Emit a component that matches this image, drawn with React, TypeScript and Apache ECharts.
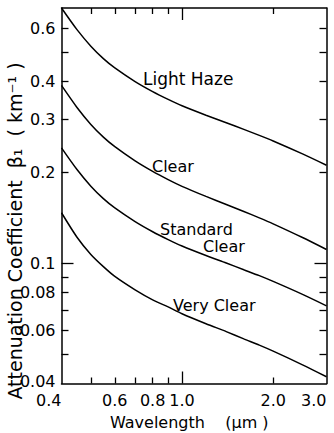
import React, { useEffect, useRef } from "react";
import * as echarts from "echarts";

const wavelengths = [0.4, 0.45, 0.5, 0.55, 0.6, 0.7, 0.8, 0.9, 1.0, 1.2, 1.4, 1.6, 1.8, 2.0, 2.5, 3.0];
const lightHaze = [0.7, 0.5935, 0.5232, 0.4759, 0.4434, 0.3996, 0.3702, 0.3488, 0.3322, 0.3091, 0.2919, 0.2775, 0.2652, 0.2541, 0.2302, 0.2111];
const clear = [0.388, 0.328, 0.2883, 0.2616, 0.2432, 0.2183, 0.2015, 0.1893, 0.1798, 0.1665, 0.1566, 0.1484, 0.1414, 0.1351, 0.1217, 0.1111];
const standardClear = [0.241, 0.2043, 0.18, 0.1637, 0.1525, 0.1374, 0.1272, 0.1198, 0.1141, 0.1061, 0.1002, 0.0952, 0.091, 0.0871, 0.0789, 0.0723];
const veryClear = [0.147, 0.122, 0.107, 0.0975, 0.0905, 0.0817, 0.0757, 0.0717, 0.0681, 0.0631, 0.0594, 0.0562, 0.0536, 0.0512, 0.0461, 0.0421];

const xRange = [0.4, 3.0];
const yRange = [0.04, 0.7];
const xLabelValues = [0.4, 0.6, 0.8, 1.0, 2.0, 3.0];
const xLabelTexts = ["0.4", "0.6", "0.8", "1.0", "2.0", "3.0"];
const xMinorTicks = [0.5, 0.6, 0.7, 0.8, 0.9, 2.0];
const xMajorTicks = [1.0];
const yLabelValues = [0.04, 0.06, 0.08, 0.1, 0.2, 0.3, 0.4, 0.6];
const yLabelTexts = ["0.04", "0.06", "0.08", "0.1", "0.2", "0.3", "0.4", "0.6"];
const yMinorTicks = [0.05, 0.06, 0.07, 0.08, 0.09, 0.2, 0.3, 0.4, 0.5, 0.6];
const yMajorTicks = [0.1];

const FONT = "DejaVu Sans";
const lg = (v: number) => Math.log10(v);

function labelFor(values: number[], texts: string[], lowStyle = false) {
  return (v: number) => {
    const i = values.findIndex((x) => Math.abs(lg(x) - v) < 1e-6);
    if (i < 0) return "";
    return lowStyle && i === 0 ? `{low|${texts[i]}}` : texts[i];
  };
}

export default function App() {
  const ref = useRef<HTMLDivElement>(null);
  useEffect(() => {
    if (!ref.current) return;
    const chart = echarts.init(ref.current, null, { renderer: "svg" });
    const lineStyle = { color: "#000", width: 1.5 };
    const tickStyle = { color: "#000", width: 1.3 };
    const gridBox = { left: 61.5, right: 7.5, top: 8, bottom: 49.5 };
    const mkX = (grid: number, position: string, ticks: number[], len: number, labels: boolean, line: boolean) => ({
      type: "value",
      gridIndex: grid,
      position,
      min: lg(xRange[0]),
      max: lg(xRange[1]),
      axisLine: { show: line, onZero: false, lineStyle },
      axisTick: { show: true, inside: true, length: len, customValues: ticks.map(lg), lineStyle: tickStyle },
      axisLabel: labels
        ? {
            show: true,
            customValues: xLabelValues.map(lg),
            formatter: labelFor(xLabelValues, xLabelTexts),
            color: "#000",
            fontSize: 16,
            fontFamily: FONT,
            margin: 9,
            alignMinLabel: "right",
            alignMaxLabel: "right",
          }
        : { show: false },
      splitLine: { show: false },
    });
    const mkY = (grid: number, position: string, ticks: number[], len: number, labels: boolean, line: boolean) => ({
      type: "value",
      gridIndex: grid,
      position,
      min: lg(yRange[0]),
      max: lg(yRange[1]),
      axisLine: { show: line, onZero: false, lineStyle },
      axisTick: { show: true, inside: true, length: len, customValues: ticks.map(lg), lineStyle: tickStyle },
      axisLabel: labels
        ? {
            show: true,
            customValues: yLabelValues.map(lg),
            formatter: labelFor(yLabelValues, yLabelTexts, true),
            color: "#000",
            fontSize: 16,
            fontFamily: FONT,
            margin: 6,
            rich: {
              low: { fontSize: 16, fontFamily: FONT, color: "#000", padding: [0, 0, 4, 0] },
            },
          }
        : { show: false },
      splitLine: { show: false },
    });
    const mkSeries = (name: string, vals: number[]) => ({
      name,
      type: "line",
      xAxisIndex: 0,
      yAxisIndex: 0,
      data: wavelengths.map((w, i) => [lg(w), lg(vals[i])]),
      showSymbol: false,
      smooth: 0.25,
      lineStyle: { color: "#000", width: 1.5 },
      clip: true,
    });
    const txt = (text: string, x: number, y: number, size = 16) => ({
      type: "text",
      x,
      y,
      style: { text, fill: "#000", font: `${size}px "${FONT}"`, align: "left", verticalAlign: "middle" },
    });
    chart.setOption({
      animation: false,
      backgroundColor: "#fff",
      grid: [gridBox, gridBox],
      xAxis: [
        mkX(0, "bottom", xMinorTicks, 6, true, true),
        mkX(0, "top", xMinorTicks, 6, false, true),
        mkX(1, "bottom", xMajorTicks, 12, false, false),
        mkX(1, "top", xMajorTicks, 12, false, false),
      ],
      yAxis: [
        mkY(0, "left", yMinorTicks, 7, true, true),
        mkY(0, "right", yMinorTicks, 7, false, true),
        mkY(1, "left", yMajorTicks, 12, false, false),
        mkY(1, "right", yMajorTicks, 12, false, false),
      ],
      series: [
        mkSeries("Light Haze", lightHaze),
        mkSeries("Clear", clear),
        mkSeries("Standard Clear", standardClear),
        mkSeries("Very Clear", veryClear),
      ],
      graphic: [
        txt("Light Haze", 143, 79, 17),
        txt("Clear", 152, 166),
        txt("Standard", 160, 229),
        txt("Clear", 203, 246),
        txt("Very Clear", 173, 305),
        txt("Wavelength    (µm )", 110, 422),
        {
          type: "text",
          x: 15,
          y: 231,
          rotation: Math.PI / 2,
          style: {
            text: "Attenuation Coefficient  β₁  ( km⁻¹ )",
            fill: "#000",
            font: `19px "${FONT}"`,
            align: "center",
            verticalAlign: "middle",
          },
        },
      ],
    });
    return () => chart.dispose();
  }, []);
  return (
    <div
      ref={ref}
      style={{ position: "fixed", left: 0, top: 0, width: 334, height: 433, background: "#fff" }}
    />
  );
}
